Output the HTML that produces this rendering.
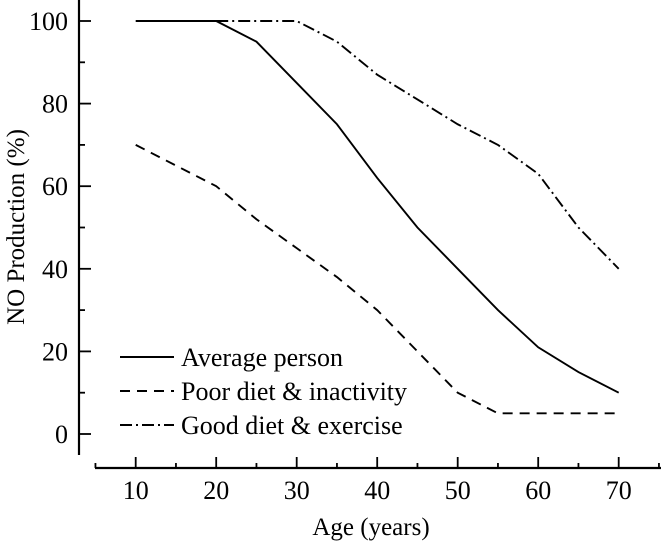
<!DOCTYPE html>
<html><head><meta charset="utf-8"><style>
html,body{margin:0;padding:0;background:#fff;}
svg{display:block;font-family:"Liberation Serif",serif;}
</style></head><body>
<svg id="chart" width="661" height="545" viewBox="0 0 661 545">
<g id="axes"></g><g id="series"></g><g id="legend"></g>
<text x="371" y="535" font-size="25" text-anchor="middle">Age (years)</text>
<text transform="translate(24,227) rotate(-90)" font-size="25" text-anchor="middle">NO Production (%)</text>
</svg>
<script>
const xTicks=[10,20,30,40,50,60,70];
const yTicks=[0,20,40,60,80,100];
const avgAges=[10,20,25,30,35,40,45,50,55,60,65,70];
const avgVals=[100,100,95,85,75,62,50,40,30,21,15,10];
const poorAges=[10,15,20,25,30,35,40,45,50,55,70];
const poorVals=[70,65,60,52,45,38,30,20,10,5,5];
const goodAges=[20,30,35,40,45,50,55,60,65,70];
const goodVals=[100,100,95,87,81,75,70,63,50,40];
const legendLabels=["Average person","Poor diet & inactivity","Good diet & exercise"];
const dashes=["none","10,7","12,4,2,4"];

const NS="http://www.w3.org/2000/svg";
const X=v=>135.7+(v-10)*8.05;
const Y=v=>434-(v)*4.13;
function mk(t,a,p){const e=document.createElementNS(NS,t);for(const k in a)e.setAttribute(k,a[k]);p.appendChild(e);return e;}
const ax=document.getElementById('axes');
const yl=mk('line',{x1:79,y1:0,x2:79,y2:455,stroke:'#000','stroke-width':2.2},ax);


const xl=mk('line',{x1:95,y1:468,x2:661,y2:468,stroke:'#000','stroke-width':2.2},ax);


for(let v=0;v<=100;v+=10){
  const t=mk('line',{x1:79,y1:Y(v),x2:v%20===0?91:85,y2:Y(v),stroke:'#000','stroke-width':1.8},ax);
  
  
}
yTicks.forEach(v=>{
  const t=mk('text',{x:68,y:Y(v)+9,'font-size':26,'text-anchor':'end'},ax);t.textContent=v;
  
  
});
for(let v=5;v<=75;v+=5){
  const t=mk('line',{x1:X(v),y1:468,x2:X(v),y2:v%10===0?457:463,stroke:'#000','stroke-width':1.8},ax);
  
  
}
xTicks.forEach(v=>{
  const t=mk('text',{x:X(v),y:499,'font-size':26,'text-anchor':'middle'},ax);t.textContent=v;
  
  
});
const sg=document.getElementById('series');
[[avgAges,avgVals,'average-person-line'],[poorAges,poorVals,'poor-diet-line'],[goodAges,goodVals,'good-diet-line']].forEach((s,i)=>{
  const pts=s[0].map((a,j)=>X(a)+','+Y(s[1][j])).join(' ');
  const p=mk('polyline',{points:pts,fill:'none',stroke:'#000','stroke-width':1.9,'stroke-dasharray':dashes[i]},sg);
  
  
});
const lg=document.getElementById('legend');
legendLabels.forEach((l,i)=>{
  const y=357+i*34;
  const ln=mk('line',{x1:120,y1:y,x2:174,y2:y,stroke:'#000','stroke-width':1.9,'stroke-dasharray':dashes[i]},lg);
  
  
  const t=mk('text',{x:181,y:y+9,'font-size':26},lg);t.textContent=l;
  
  
});
</script>
</body></html>
